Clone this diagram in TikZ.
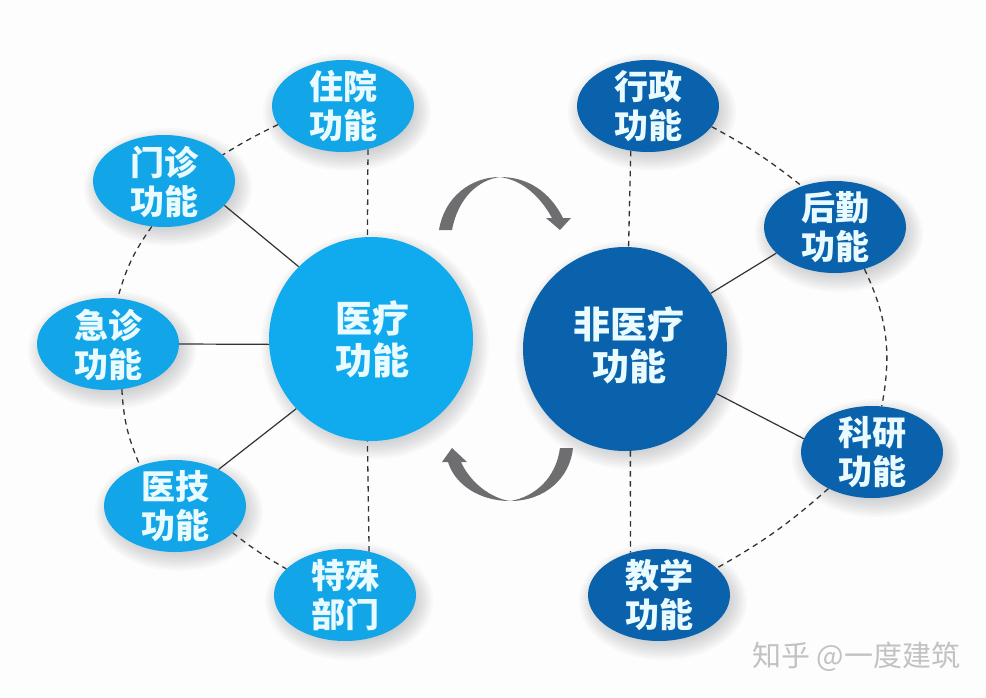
\documentclass[tikz,border=0pt]{standalone}
\usepackage{fontspec}
\usetikzlibrary{shapes.geometric}
\newfontfamily\cjk{Noto Sans CJK SC}
\definecolor{pagebg}{HTML}{FDFDFD}
\definecolor{lightblue}{HTML}{12A6E8}
\definecolor{lightbig}{HTML}{10ABEE}
\definecolor{darkblue}{HTML}{0B62AC}
\definecolor{arrowgray}{HTML}{6E6E70}
\definecolor{labeltext}{HTML}{E9FBFF}
\definecolor{shadowtone}{HTML}{60666C}
\tikzset{
  x=1pt,y=-1pt,
  blob/.style={shape=ellipse,minimum width=142pt,minimum height=92pt,inner sep=0pt},
  lightblob/.style={blob,fill=lightblue},
  darkblob/.style={blob,fill=darkblue},
  bigblob/.style={shape=circle,minimum size=204pt,inner sep=0pt},
  caption/.style={align=center,text=labeltext,font=\cjk\bfseries\fontsize{34}{39}\selectfont,inner sep=0pt},
  bigcaption/.style={align=center,text=labeltext,font=\cjk\bfseries\fontsize{37}{42}\selectfont,inner sep=0pt},
  solidlink/.style={draw=black!80,line width=1.2pt},
  dashlink/.style={draw=black!80,line width=1.3pt,dash pattern=on 5.5pt off 4.5pt},
  turn/.style={fill=arrowgray,draw=none},
  watermark/.style={text=black!24,font=\cjk\fontsize{29}{29}\selectfont,inner sep=0pt,anchor=west},
  softlayer/.style={fill=shadowtone,fill opacity=0.03,draw=none}
}
\newcommand{\softspot}[4]{%
  \foreach \k in {0,...,11}{\fill[softlayer] (#1,#2) ellipse [x radius={#3+\k*2},y radius={#4+\k*2}];}%
}
\begin{document}
\begin{tikzpicture}
\fill[pagebg] (0,0) rectangle (986,697);
\useasboundingbox (0,0) rectangle (986,697);
% shadows
\foreach \px/\py in {347/112,168/187,112/350,179/512,349/601,652/112,839/233,876/458,663/601}{
  \softspot{\px}{\py}{62}{37}
}
\softspot{375}{345}{92}{92}
\softspot{629}{355}{92}{92}
% blobs
\node[lightblob] (zy) at (343,106) {};
\node[lightblob] (mz) at (164,181) {};
\node[lightblob] (jz) at (108,344) {};
\node[lightblob] (yj) at (175,506) {};
\node[lightblob] (ts) at (345,595) {};
\node[darkblob] (xz) at (648,106) {};
\node[darkblob] (hq) at (835,227) {};
\node[darkblob] (ky) at (872,452) {};
\node[darkblob] (jx) at (659,595) {};
\node[bigblob,fill=lightbig] (yl) at (371,339) {};
\node[bigblob,fill=darkblue] (fy) at (625,349) {};
% labels
\node[caption] (zyt) at (343,106) {住院\\功能};
\node[caption] (mzt) at (164,181.5) {门诊\\功能};
\node[caption] (jzt) at (108,344.5) {急诊\\功能};
\node[caption] (yjt) at (175,506) {医技\\功能};
\node[caption] (tst) at (345,595) {特殊\\部门};
\node[caption] (xzt) at (648,106) {行政\\功能};
\node[caption] (hqt) at (835,227.5) {后勤\\功能};
\node[caption] (kyt) at (872,452.5) {科研\\功能};
\node[caption] (jxt) at (659,595) {教学\\功能};
\node[bigcaption] (ylt) at (372,339) {医疗\\功能};
\node[bigcaption] (fyt) at (629,345) {非医疗\\功能};
% left connectors
\draw[solidlink] (mz.-22) -- (yl.135);
\draw[solidlink] (jz.0) -- (yl.183);
\draw[solidlink] (yj.40) -- (yl.223);
\draw[dashlink] (zy.-60) -- (yl.92);
\draw[dashlink] (ts.61) -- (yl.268);
\draw[dashlink] (zy.196) to[bend right=3] (mz.24);
\draw[dashlink] (mz.255) to[bend right=10] (jz.78);
\draw[dashlink] (jz.-73) to[bend right=10] (yj.131);
\draw[dashlink] (yj.-25) to[bend right=4] (ts.156);
% right connectors
\draw[solidlink] (hq.204) -- (fy.33);
\draw[solidlink] (fy.-26) -- (ky.169);
\draw[dashlink] (xz.249) -- (fy.88);
\draw[dashlink] (fy.-87) -- (jx.124);
\draw[dashlink] (xz.-18) to[bend left=5] (hq.129);
\draw[dashlink] (hq.-55) to[bend left=18] (ky.78);
\draw[dashlink] (ky.220) to[bend left=6] (jx.25);
% cycle arrows
\fill[turn] (439,230) .. controls (444,198) and (470,177) .. (500,177)
  .. controls (528,177) and (550,192) .. (563,218) -- (571,218) -- (560,230) -- (546,218) -- (552,218)
  .. controls (540,196) and (522,180) .. (500,177) .. controls (478,180) and (458,198) .. (452,230) -- cycle;
\fill[turn] (573,448) .. controls (570,478) and (545,501) .. (510,501)
  .. controls (480,501) and (455,485) .. (448,462) -- (442,462) -- (452,448) -- (467,462) -- (461,462)
  .. controls (470,482) and (490,498) .. (510,501) .. controls (535,497) and (556,478) .. (560,448) -- cycle;
% watermark
\node[watermark] (wm) at (752,657) {知乎 @一度建筑};
\end{tikzpicture}
\end{document}
